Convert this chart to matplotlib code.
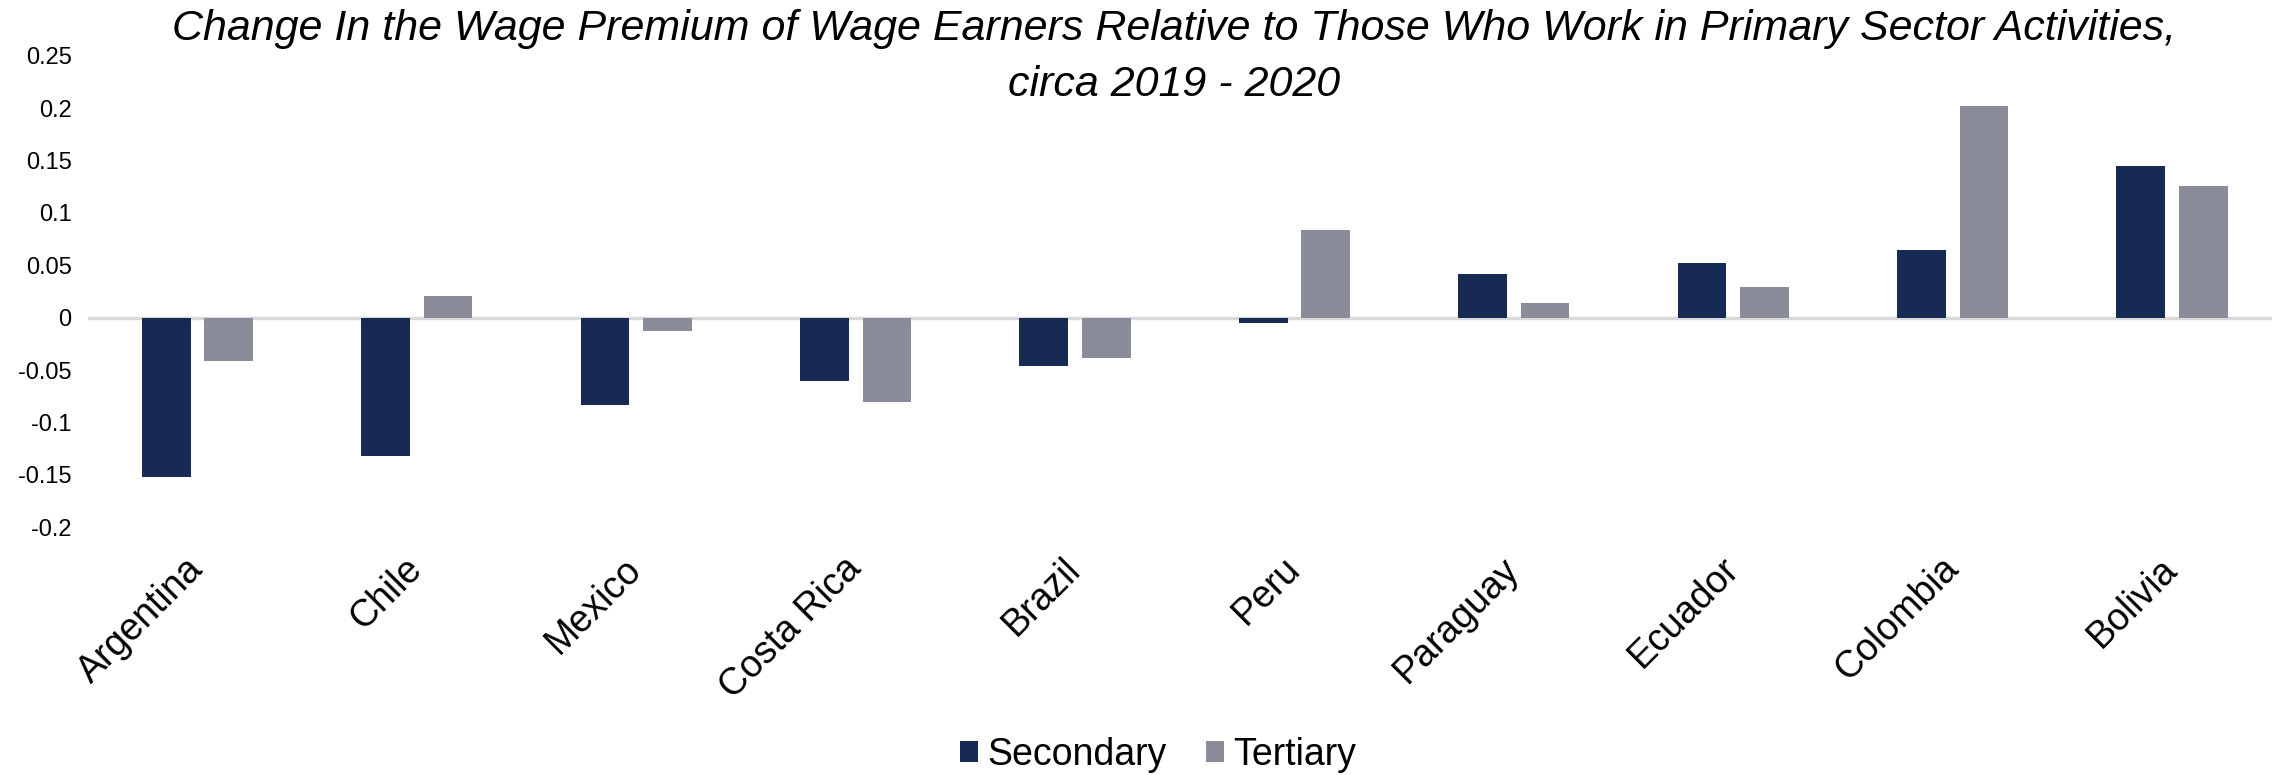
import numpy as np
import matplotlib
matplotlib.use("Agg")
import matplotlib.pyplot as plt

countries = ["Argentina", "Chile", "Mexico", "Costa Rica", "Brazil",
             "Peru", "Paraguay", "Ecuador", "Colombia", "Bolivia"]
secondary = [-0.152, -0.132, -0.083, -0.060, -0.046,
             -0.005, 0.042, 0.052, 0.065, 0.145]
tertiary = [-0.041, 0.021, -0.013, -0.080, -0.038,
            0.084, 0.014, 0.029, 0.202, 0.126]
yticks = [-0.2, -0.15, -0.1, -0.05, 0, 0.05, 0.1, 0.15, 0.2, 0.25]
ytick_labels = ["-0.2", "-0.15", "-0.1", "-0.05", "0", "0.05", "0.1", "0.15", "0.2", "0.25"]

plt.rcParams['font.family'] = ['Liberation Sans', 'DejaVu Sans']

fig = plt.figure(figsize=(22.72, 7.75), dpi=100)
ax = fig.add_axes([0.0386, 0.3196, 0.9657, 0.6085])

x = np.arange(len(countries))
w = 0.222
off = 0.1424
c_sec = "#172A53"
c_ter = "#8A8C99"
ax.bar(x - off, secondary, w, color=c_sec, label="Secondary", zorder=3)
ax.bar(x + off, tertiary, w, color=c_ter, label="Tertiary", zorder=3)

ax.set_xlim(-0.5, len(countries) - 0.5)
ax.set_ylim(-0.2, 0.25)
ax.set_yticks(yticks)
ax.set_yticklabels(ytick_labels, fontsize=17)
ax.set_xticks(x)
ax.set_xticklabels(countries, rotation=45, ha='right', va='center',
                   rotation_mode='anchor', fontsize=27)
ax.tick_params(axis='both', length=0)
ax.tick_params(axis='y', pad=11.5)
ax.tick_params(axis='x', pad=26)
for s in ax.spines.values():
    s.set_visible(False)
ax.axhline(0, color="#D9D9D9", lw=2.5, zorder=2)

fig.text(0.5167, 0.962, "Change In the Wage Premium of Wage Earners Relative to Those Who Work in Primary Sector Activities,",
         ha='center', va='center', fontsize=31, style='italic')
fig.text(0.5167, 0.890, "circa 2019 - 2020", ha='center', va='center', fontsize=31, style='italic')

fig.legend(loc='center', bbox_to_anchor=(0.5097, 0.026), ncol=2, frameon=False,
           fontsize=27, handlelength=0.5, handleheight=0.5, handletextpad=0.24,
           columnspacing=1.04)

fig.savefig("out.png", dpi=100)
